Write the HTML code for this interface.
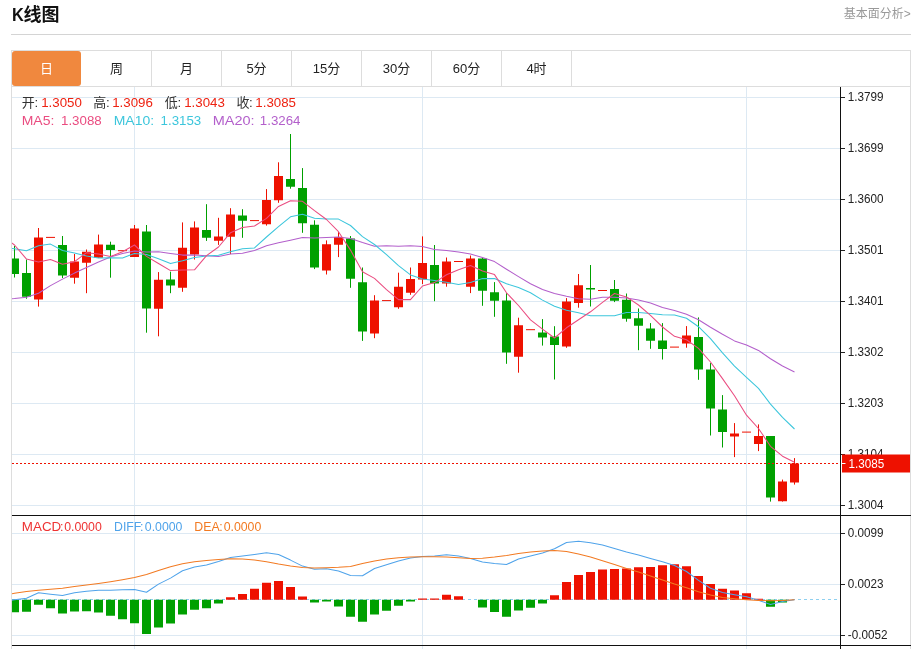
<!DOCTYPE html>
<html lang="zh-CN">
<head>
<meta charset="utf-8">
<title>K线图</title>
<style>
html,body{margin:0;padding:0;background:#fff;}
body{width:918px;height:649px;overflow:hidden;position:relative;font-family:"Liberation Sans","Noto Sans CJK SC",sans-serif;color:#222;}
.title{position:absolute;left:12px;top:1.7px;height:28px;line-height:27px;font-size:18px;font-weight:bold;color:#111;white-space:nowrap;}
.title b{display:inline-block;transform:scaleX(0.91);transform-origin:0 50%;margin-right:-1.6px;}
.more{position:absolute;right:7.3px;top:5.5px;font-size:12px;line-height:17px;color:#999;}
.hr{position:absolute;left:11px;top:34px;width:900px;height:1px;background:#d4d4d4;}
.box{position:absolute;left:11px;top:50px;width:898px;height:620px;border:1px solid #ddd;}
.tabs{position:absolute;left:0;top:0;width:898px;height:35px;border-bottom:1px solid #ddd;}
.tab{position:absolute;top:0;height:35px;width:69px;line-height:35px;text-align:center;font-size:13px;color:#222;border-right:1px solid #ddd;}
.tab.on{background:#f0883e;color:#fff;border-right:none;width:69px;border-radius:3px;}
.info{position:absolute;left:22px;white-space:pre;font-size:13px;line-height:16px;}
.info i{font-style:normal;}
</style>
</head>
<body>
<div class="title"><b>K</b>线图</div>
<div class="more">基本面分析&gt;</div>
<div class="hr"></div>
<div class="box">
<div class="tabs">
<div class="tab on" style="left:0">日</div>
<div class="tab" style="left:70px">周</div>
<div class="tab" style="left:140px">月</div>
<div class="tab" style="left:210px">5分</div>
<div class="tab" style="left:280px">15分</div>
<div class="tab" style="left:350px">30分</div>
<div class="tab" style="left:420px">60分</div>
<div class="tab" style="left:490px">4时</div>
</div>
</div>
<svg width="899" height="562" viewBox="12 87 899 562" style="position:absolute;left:12px;top:87px;display:block">
<path d="M12 97.5H840M12 148.5H840M12 199.5H840M12 250.5H840M12 301.5H840M12 352.5H840M12 403.5H840M12 454.5H840M12 505.5H840M12 533.5H840M12 584.5H840M12 635.5H840M134.5 87V649M422.5 87V649M746.5 87V649" stroke="#dde9f3" stroke-width="1" fill="none" shape-rendering="crispEdges"/>
<path d="M38.5 228.0V306.6M46.0 237.4H55.0M74.5 254.0V283.7M86.5 249.5V293.2M98.5 234.6V257.7M118.0 250.7H127.0M134.5 225.0V256.9M158.5 272.1V336.3M182.5 222.4V291.8M194.5 221.4V259.5M218.5 217.8V244.9M230.5 208.2V254.1M250.0 220.6H259.0M266.5 189.1V225.6M278.5 162.3V202.8M326.5 240.4V274.5M338.5 232.1V257.1M374.5 295.2V338.2M382.0 300.6H391.0M398.5 272.7V308.8M410.5 267.5V294.8M422.5 236.4V284.1M446.5 257.5V286.7M454.0 261.5H463.0M470.5 255.5V293.1M518.5 317.7V372.7M526.0 329.7H535.0M566.5 298.1V347.8M578.5 274.0V307.7M598.0 290.5H607.0M670.0 347.1H679.0M686.5 326.1V347.7M734.5 423.1V457.1M742.0 432.1H751.0M758.5 424.4V451.1M782.5 479.6V501.6M794.5 458.1V484.6" stroke="#ee1100" stroke-width="1" fill="none"/>
<path d="M14.5 246.0V277.5M26.5 259.5V298.8M62.5 236.0V278.0M110.5 241.7V277.7M146.5 225.0V332.7M170.5 271.7V293.2M206.5 204.2V240.9M242.5 209.2V237.8M290.5 134.0V188.7M302.5 168.1V232.8M314.5 220.3V269.1M350.5 236.0V287.8M362.5 267.5V340.9M434.5 245.0V301.2M482.5 257.0V305.8M494.5 282.1V316.8M506.5 293.1V363.8M542.5 319.1V345.6M554.5 326.2V379.5M590.5 265.0V306.5M614.5 280.0V302.1M626.5 293.5V321.7M638.5 308.5V350.2M650.5 323.1V348.8M662.5 323.1V359.5M698.5 317.4V379.8M710.5 363.1V435.5M722.5 395.1V447.5M770.5 436.1V501.6" stroke="#00a000" stroke-width="1" fill="none"/>
<path d="M34.0 237.4h9V299.6h-9zM70.0 261.5h9V277.7h-9zM82.0 251.7h9V262.7h-9zM94.0 244.5h9V257.7h-9zM130.0 228.4h9V256.9h-9zM154.0 279.7h9V308.8h-9zM178.0 247.7h9V287.8h-9zM190.0 227.4h9V254.5h-9zM214.0 236.4h9V240.7h-9zM226.0 214.4h9V236.7h-9zM262.0 200.0h9V224.2h-9zM274.0 176.1h9V200.2h-9zM322.0 244.2h9V270.5h-9zM334.0 237.1h9V244.8h-9zM370.0 300.4h9V333.6h-9zM394.0 286.7h9V307.2h-9zM406.0 279.1h9V292.7h-9zM418.0 263.1h9V279.5h-9zM442.0 261.5h9V283.5h-9zM466.0 258.5h9V286.7h-9zM514.0 325.2h9V356.8h-9zM562.0 301.5h9V346.4h-9zM574.0 285.3h9V303.1h-9zM682.0 335.5h9V343.5h-9zM730.0 433.5h9V436.5h-9zM754.0 436.1h9V444.1h-9zM778.0 481.6h9V501.2h-9zM790.0 463.6h9V482.6h-9z" fill="#ee1100"/>
<path d="M10.0 258.5h9V274.1h-9zM22.0 273.1h9V296.8h-9zM58.0 245.0h9V275.5h-9zM106.0 244.7h9V249.9h-9zM142.0 231.4h9V308.6h-9zM166.0 279.5h9V285.6h-9zM202.0 230.0h9V237.8h-9zM238.0 215.6h9V220.8h-9zM286.0 179.1h9V186.7h-9zM298.0 187.9h9V223.2h-9zM310.0 224.7h9V267.5h-9zM346.0 238.4h9V278.7h-9zM358.0 282.3h9V331.4h-9zM430.0 265.1h9V283.5h-9zM478.0 258.5h9V290.7h-9zM490.0 292.3h9V300.8h-9zM502.0 300.5h9V352.5h-9zM538.0 332.4h9V337.6h-9zM550.0 336.6h9V345.0h-9zM586.0 288.0h9V289.4h-9zM610.0 289.1h9V300.7h-9zM622.0 299.7h9V318.7h-9zM634.0 318.3h9V325.8h-9zM646.0 328.4h9V340.8h-9zM658.0 340.5h9V349.1h-9zM694.0 336.9h9V369.6h-9zM706.0 369.6h9V408.5h-9zM718.0 409.4h9V432.1h-9zM766.0 436.1h9V497.6h-9z" fill="#00a000"/>
<path d="M11.5 298.8L14.5 298.6L26.5 297.2L38.5 293.2L50.5 285.6L62.5 279.1L74.5 273.1L86.5 267.5L98.5 262.1L110.5 257.1L122.5 253.5L134.5 251.1L146.5 252.1L158.5 251.7L170.5 253.5L182.5 255.1L194.5 255.1L206.5 255.7L218.5 256.5L230.5 254.1L242.5 253.3L254.5 250.6L266.5 245.8L278.5 242.7L290.5 240.2L302.5 237.6L314.5 237.9L326.5 237.5L338.5 237.1L350.5 238.6L362.5 242.6L374.5 246.2L386.5 245.8L398.5 246.2L410.5 245.8L422.5 246.6L434.5 249.4L446.5 250.6L458.5 251.9L470.5 254.1L482.5 257.6L494.5 261.6L506.5 269.2L518.5 276.6L530.5 283.8L542.5 289.5L554.5 293.4L566.5 296.3L578.5 298.7L590.5 299.2L602.5 297.2L614.5 297.2L626.5 298.1L638.5 300.0L650.5 303.1L662.5 307.4L674.5 310.6L686.5 314.3L698.5 319.7L710.5 327.2L722.5 334.3L734.5 340.9L746.5 344.9L758.5 350.4L770.5 358.8L782.5 366.0L794.5 372.0" stroke="#b35fcb" stroke-width="1.05" fill="none" stroke-linejoin="round"/>
<path d="M11.5 248.5L14.5 248.7L26.5 250.7L38.5 245.7L50.5 244.1L62.5 250.5L74.5 253.1L86.5 256.1L98.5 258.1L110.5 257.7L122.5 257.9L134.5 253.4L146.5 254.6L158.5 258.8L170.5 263.6L182.5 260.8L194.5 257.4L206.5 256.0L218.5 255.2L230.5 251.7L242.5 248.7L254.5 247.9L266.5 237.0L278.5 226.7L290.5 216.8L302.5 214.3L314.5 218.3L326.5 219.0L338.5 219.1L350.5 225.5L362.5 236.6L374.5 244.5L386.5 254.6L398.5 265.6L410.5 274.9L422.5 278.9L434.5 280.5L446.5 282.2L458.5 284.6L470.5 282.6L482.5 278.6L494.5 278.6L506.5 283.8L518.5 287.6L530.5 292.7L542.5 300.1L554.5 306.3L566.5 310.3L578.5 312.7L590.5 315.8L602.5 315.8L614.5 315.7L626.5 312.4L638.5 312.4L650.5 313.5L662.5 314.7L674.5 314.9L686.5 318.3L698.5 326.7L710.5 338.6L722.5 352.8L734.5 366.1L746.5 377.4L758.5 388.4L770.5 404.1L782.5 417.4L794.5 429.0" stroke="#3cc6dc" stroke-width="1.05" fill="none" stroke-linejoin="round"/>
<path d="M11.5 242.7L14.5 245.0L26.5 259.1L38.5 262.1L50.5 259.5L62.5 264.2L74.5 261.7L86.5 252.7L98.5 254.1L110.5 256.6L122.5 251.7L134.5 245.0L146.5 256.4L158.5 263.5L170.5 270.6L182.5 270.0L194.5 269.8L206.5 255.6L218.5 247.0L230.5 232.7L242.5 227.4L254.5 226.0L266.5 218.4L278.5 206.4L290.5 200.8L302.5 201.3L314.5 210.7L326.5 219.5L338.5 231.7L350.5 250.1L362.5 271.8L374.5 278.4L386.5 289.6L398.5 299.6L410.5 299.6L422.5 286.0L434.5 282.6L446.5 274.8L458.5 269.7L470.5 265.6L482.5 271.1L494.5 274.6L506.5 292.8L518.5 305.5L530.5 319.8L542.5 329.2L554.5 338.0L566.5 327.8L578.5 319.8L590.5 311.8L602.5 302.3L614.5 293.5L626.5 296.9L638.5 305.0L650.5 315.3L662.5 327.0L674.5 336.3L686.5 339.7L698.5 348.4L710.5 362.0L722.5 378.6L734.5 395.8L746.5 415.2L758.5 428.5L770.5 446.3L782.5 456.2L794.5 462.2" stroke="#ea4c80" stroke-width="1.05" fill="none" stroke-linejoin="round"/>
<path d="M12 463.5H840" stroke="#ee1100" stroke-width="1" stroke-dasharray="2 2" fill="none"/>
<path d="M12 599.5H838" stroke="#8ed0f0" stroke-width="1" stroke-dasharray="3 3" fill="none"/>
<path d="M226.0 597.2h9V599.8h-9zM238.0 594.0h9V599.8h-9zM250.0 588.8h9V599.8h-9zM262.0 582.7h9V599.8h-9zM274.0 581.1h9V599.8h-9zM286.0 587.1h9V599.8h-9zM298.0 596.6h9V599.8h-9zM418.0 598.6h9V599.8h-9zM430.0 598.6h9V599.8h-9zM442.0 594.8h9V599.8h-9zM454.0 596.2h9V599.8h-9zM550.0 595.2h9V599.8h-9zM562.0 582.1h9V599.8h-9zM574.0 575.1h9V599.8h-9zM586.0 572.1h9V599.8h-9zM598.0 569.5h9V599.8h-9zM610.0 568.9h9V599.8h-9zM622.0 568.5h9V599.8h-9zM634.0 567.3h9V599.8h-9zM646.0 566.9h9V599.8h-9zM658.0 565.3h9V599.8h-9zM670.0 564.3h9V599.8h-9zM682.0 566.3h9V599.8h-9zM694.0 576.1h9V599.8h-9zM706.0 584.1h9V599.8h-9zM718.0 588.8h9V599.8h-9zM730.0 590.4h9V599.8h-9zM742.0 593.2h9V599.8h-9zM754.0 598.8h9V599.8h-9z" fill="#ee1100"/>
<path d="M10.0 599.8h9V612.2h-9zM22.0 599.8h9V611.8h-9zM34.0 599.8h9V604.8h-9zM46.0 599.8h9V608.2h-9zM58.0 599.8h9V613.6h-9zM70.0 599.8h9V611.6h-9zM82.0 599.8h9V611.2h-9zM94.0 599.8h9V612.6h-9zM106.0 599.8h9V615.8h-9zM118.0 599.8h9V619.2h-9zM130.0 599.8h9V623.2h-9zM142.0 599.8h9V633.9h-9zM154.0 599.8h9V627.6h-9zM166.0 599.8h9V623.6h-9zM178.0 599.8h9V614.5h-9zM190.0 599.8h9V609.8h-9zM202.0 599.8h9V608.2h-9zM214.0 599.8h9V603.6h-9zM310.0 599.8h9V602.6h-9zM322.0 599.8h9V601.6h-9zM334.0 599.8h9V606.6h-9zM346.0 599.8h9V616.8h-9zM358.0 599.8h9V621.8h-9zM370.0 599.8h9V614.6h-9zM382.0 599.8h9V610.8h-9zM394.0 599.8h9V605.8h-9zM406.0 599.8h9V601.6h-9zM478.0 599.8h9V607.4h-9zM490.0 599.8h9V612.0h-9zM502.0 599.8h9V616.8h-9zM514.0 599.8h9V610.4h-9zM526.0 599.8h9V607.8h-9zM538.0 599.8h9V603.6h-9zM766.0 599.8h9V606.8h-9zM778.0 599.8h9V602.6h-9z" fill="#00a000"/>
<path d="M11.5 600.2L14.5 599.8L26.5 598.2L38.5 592.8L50.5 594.2L62.5 595.6L74.5 592.8L86.5 591.2L98.5 590.2L110.5 590.2L122.5 589.8L134.5 589.4L146.5 592.2L158.5 584.1L170.5 578.1L182.5 570.7L194.5 567.1L206.5 565.1L218.5 561.5L230.5 557.5L242.5 556.1L254.5 554.5L266.5 552.7L278.5 554.5L290.5 560.1L302.5 566.1L314.5 569.3L326.5 568.7L338.5 571.1L350.5 575.5L362.5 575.7L374.5 568.5L386.5 564.7L398.5 561.1L410.5 558.1L422.5 556.5L434.5 556.1L446.5 554.7L458.5 556.1L470.5 558.5L482.5 562.1L494.5 563.5L506.5 564.5L518.5 559.1L530.5 556.1L542.5 553.1L554.5 548.7L566.5 542.5L578.5 541.2L590.5 542.7L602.5 545.1L614.5 548.5L626.5 552.1L638.5 555.1L650.5 558.5L662.5 561.7L674.5 565.5L686.5 571.5L698.5 580.4L710.5 588.2L722.5 592.6L734.5 594.8L746.5 596.8L758.5 600.2L770.5 604.6L782.5 601.6L794.5 599.8" stroke="#4fa3ea" stroke-width="1.05" fill="none" stroke-linejoin="round"/>
<path d="M11.5 593.8L14.5 593.2L26.5 591.6L38.5 590.2L50.5 589.2L62.5 588.2L74.5 586.5L86.5 585.1L98.5 583.5L110.5 581.7L122.5 579.7L134.5 577.5L146.5 574.5L158.5 570.5L170.5 566.7L182.5 563.7L194.5 561.7L206.5 560.5L218.5 559.5L230.5 558.7L242.5 559.1L254.5 560.1L266.5 561.7L278.5 564.1L290.5 566.1L302.5 567.5L314.5 568.1L326.5 567.7L338.5 567.3L350.5 566.5L362.5 563.5L374.5 561.1L386.5 559.1L398.5 557.7L410.5 557.1L422.5 556.7L434.5 556.7L446.5 557.1L458.5 557.7L470.5 558.5L482.5 558.3L494.5 557.1L506.5 555.5L518.5 553.5L530.5 552.1L542.5 551.1L554.5 550.5L566.5 551.5L578.5 554.1L590.5 557.1L602.5 560.7L614.5 564.5L626.5 568.5L638.5 572.1L650.5 575.9L662.5 580.1L674.5 584.1L686.5 587.7L698.5 591.7L710.5 595.0L722.5 597.6L734.5 598.8L746.5 599.8L758.5 600.4L770.5 600.8L782.5 600.4L794.5 599.8" stroke="#f27a22" stroke-width="1.05" fill="none" stroke-linejoin="round"/>
<path d="M840.5 87V649M12 515.5H911M12 645.5H911" stroke="#111" stroke-width="1" fill="none" shape-rendering="crispEdges"/>
<path d="M841 97.5H845M841 148.5H845M841 199.5H845M841 250.5H845M841 301.5H845M841 352.5H845M841 403.5H845M841 454.5H845M841 505.5H845M841 533.5H845M841 584.5H845M841 635.5H845" stroke="#222" stroke-width="1" fill="none" shape-rendering="crispEdges"/>
<g font-family="'Liberation Sans',sans-serif" font-size="13" fill="#222">
<text transform="translate(847.8 101.3) scale(0.9 1)">1.3799</text>
<text transform="translate(847.8 152.3) scale(0.9 1)">1.3699</text>
<text transform="translate(847.8 203.3) scale(0.9 1)">1.3600</text>
<text transform="translate(847.8 254.3) scale(0.9 1)">1.3501</text>
<text transform="translate(847.8 305.3) scale(0.9 1)">1.3401</text>
<text transform="translate(847.8 356.3) scale(0.9 1)">1.3302</text>
<text transform="translate(847.8 407.3) scale(0.9 1)">1.3203</text>
<text transform="translate(847.8 458.3) scale(0.9 1)">1.3104</text>
<text transform="translate(847.8 509.3) scale(0.9 1)">1.3004</text>
<text transform="translate(847.8 537.3) scale(0.9 1)">0.0099</text>
<text transform="translate(847.8 588.3) scale(0.9 1)">0.0023</text>
<text transform="translate(847.8 639.3) scale(0.9 1)">-0.0052</text>
</g>
<rect x="842" y="454.5" width="68" height="18" fill="#ee1100"/>
<path d="M842 463.5H845.5" stroke="#fff" stroke-width="1" fill="none"/>
<text transform="translate(848.4 467.8) scale(0.9 1)" font-family="'Liberation Sans',sans-serif" font-size="13" fill="#fff">1.3085</text>
<g font-family="'Liberation Sans','Noto Sans CJK SC',sans-serif">
<text x="21.7" y="106.9" fill="#333" font-size="13">开</text>
<text x="34.4" y="107.2" fill="#333" font-size="13.3">:</text>
<text x="41.2" y="107.2" fill="#ee2211" font-size="13.3">1.3050</text>
<text x="93.3" y="106.9" fill="#333" font-size="13">高</text>
<text x="105.9" y="107.2" fill="#333" font-size="13.3">:</text>
<text x="112.2" y="107.2" fill="#ee2211" font-size="13.3">1.3096</text>
<text x="164.8" y="106.9" fill="#333" font-size="13">低</text>
<text x="177.4" y="107.2" fill="#333" font-size="13.3">:</text>
<text x="184.2" y="107.2" fill="#ee2211" font-size="13.3">1.3043</text>
<text x="236.5" y="106.9" fill="#333" font-size="13">收</text>
<text x="248.9" y="107.2" fill="#333" font-size="13.3">:</text>
<text x="255.3" y="107.2" fill="#ee2211" font-size="13.3">1.3085</text>
<text transform="translate(21.7 125.4) scale(1.05 1)" fill="#ea4c80" font-size="13.3">MA5:</text>
<text x="61.0" y="125.4" fill="#ea4c80" font-size="13.3">1.3088</text>
<text transform="translate(113.7 125.4) scale(1.05 1)" fill="#3cc6dc" font-size="13.3">MA10:</text>
<text x="160.6" y="125.4" fill="#3cc6dc" font-size="13.3">1.3153</text>
<text transform="translate(212.7 125.4) scale(1.09 1)" fill="#b35fcb" font-size="13.3">MA20:</text>
<text x="259.8" y="125.4" fill="#b35fcb" font-size="13.3">1.3264</text>
<text transform="translate(21.8 530.9) scale(1.09 1)" fill="#ee3333" font-size="12.3">MACD</text>
<text x="60.1" y="530.9" fill="#ee3333" font-size="12.3">:</text>
<text x="64.2" y="530.9" fill="#ee3333" font-size="12.3">0.0000</text>
<text x="114" y="530.9" fill="#4fa3ea" font-size="12.3">DIFF</text>
<text x="140.1" y="530.9" fill="#4fa3ea" font-size="12.3">:</text>
<text x="144.8" y="530.9" fill="#4fa3ea" font-size="12.3">0.0000</text>
<text x="194.3" y="530.9" fill="#f27a22" font-size="12.3">DEA</text>
<text x="219.3" y="530.9" fill="#f27a22" font-size="12.3">:</text>
<text x="223.7" y="530.9" fill="#f27a22" font-size="12.3">0.0000</text>
</g>
</svg>
</body>
</html>
